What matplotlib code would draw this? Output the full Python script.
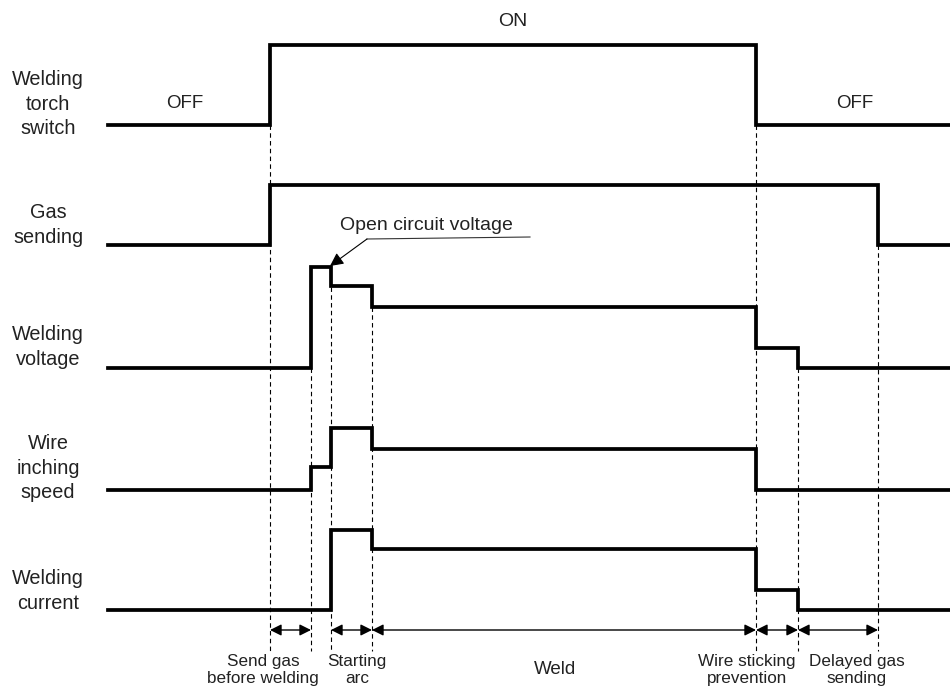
import numpy as np
import matplotlib.pyplot as plt

plt.rcParams['font.family'] = ['Liberation Sans', 'DejaVu Sans']

# event times along the timeline (pixel-like units, left to right)
times = [108, 270, 311, 331, 372, 756, 798, 878, 950]

# signal rows: label, baseline, heights for each segment between events
row_labels = ['Welding\ntorch\nswitch', 'Gas\nsending', 'Welding\nvoltage',
              'Wire\ninching\nspeed', 'Welding\ncurrent']
baselines = [125, 245, 368, 490, 610]
label_y = [104, 225, 347, 468, 591]
torch = [0, 80, 80, 80, 80, 0, 0, 0]
gas = [0, 60, 60, 60, 60, 60, 60, 0]
voltage = [0, 0, 101, 82, 61, 20, 0, 0]
wire = [0, 0, 23, 62, 41, 0, 0, 0]
current = [0, 0, 0, 80, 61, 20, 0, 0]
signals = [torch, gas, voltage, wire, current]

# dashed guide lines: event time and where the dash starts
guide_times = [270, 311, 331, 372, 756, 798, 878]
guide_tops = [125, 368, 287, 307, 125, 368, 245]
guide_bottom = 651

# bottom interval annotations
intervals = [(270, 311), (331, 372), (372, 756), (756, 798), (798, 878)]
interval_labels = ['Send gas\nbefore welding', 'Starting\narc', 'Weld',
                   'Wire sticking\nprevention', 'Delayed gas\nsending']
interval_label_x = [263, 357, 555, 747, 857]

TXT = '#222222'

fig = plt.figure(figsize=(9.5, 6.89), dpi=100)
ax = fig.add_axes([0, 0, 1, 1])
ax.set_xlim(0, 950)
ax.set_ylim(689, 0)
ax.axis('off')

for t, top in zip(guide_times, guide_tops):
    ax.plot([t, t], [top, guide_bottom], color='black', lw=0.8,
            ls=(0, (4, 3)), zorder=1)

for base, h, lab, ly in zip(baselines, signals, row_labels, label_y):
    y = base - np.append(h, h[-1])
    ax.step(times, y, where='post', color='black', lw=2.7,
            solid_joinstyle='miter', zorder=3)
    ax.text(48, ly, lab, ha='center', va='center', fontsize=14.3,
            color=TXT, linespacing=1.37)

# state labels of the torch switch
ax.text(185, 104, 'OFF', ha='center', va='center', fontsize=13.5, color=TXT)
ax.text(513, 22, 'ON', ha='center', va='center', fontsize=14, color=TXT)
ax.text(855, 104, 'OFF', ha='center', va='center', fontsize=13.5, color=TXT)

# open circuit voltage callout
ax.text(340, 225, 'Open circuit voltage', ha='left', va='center',
        fontsize=14, color=TXT)
ax.plot([367, 530], [239, 237], color='#333333', lw=0.8)
ax.annotate('', xy=(330, 266), xytext=(367, 239),
            arrowprops=dict(arrowstyle='-|>', color='black', lw=0.8,
                            mutation_scale=20, shrinkA=0, shrinkB=0))

for (a, b), lab, lx in zip(intervals, interval_labels, interval_label_x):
    ax.annotate('', xy=(a, 630), xytext=(b, 630),
                arrowprops=dict(arrowstyle='<|-|>', color='black', lw=1.0,
                                mutation_scale=17, shrinkA=0, shrinkB=0))
    if lab == 'Weld':
        ax.text(lx, 669, lab, ha='center', va='center', fontsize=13.5,
                color=TXT)
    else:
        ax.text(lx, 670, lab, ha='center', va='center', fontsize=12.3,
                color=TXT, linespacing=1.22)

fig.savefig('out.png', dpi=100)
